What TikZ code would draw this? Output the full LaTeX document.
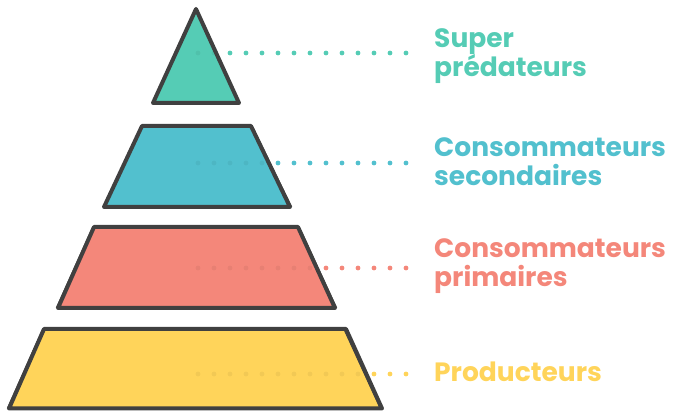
\documentclass[tikz,border=0pt]{standalone}
\usepackage{fontspec}
\newfontfamily\lab{Poppins}
\definecolor{cteal}{HTML}{55CCB5}
\definecolor{cblue}{HTML}{52C0CE}
\definecolor{csalmon}{HTML}{F4877A}
\definecolor{cyellow}{HTML}{FFD45A}
\definecolor{cline}{HTML}{404040}
\tikzset{
  tier/.style={draw=cline, line width=4pt, line join=round, line cap=round},
  sketch/.style={draw=cline, line width=0.9pt, line join=round},
  lbl/.style={anchor=base west, inner sep=0pt, font=\lab\bfseries\fontsize{26.5}{29.5}\selectfont, align=left},
}
\begin{document}
\begin{tikzpicture}[x=1pt,y=-1pt]
\useasboundingbox (0,0) rectangle (675,411);
% tier corners
\coordinate (a1) at (196,9);
\coordinate (a2) at (239,103);
\coordinate (a3) at (153,103);
\coordinate (b1) at (142,126);
\coordinate (b2) at (251,126);
\coordinate (b3) at (290,207);
\coordinate (b4) at (104,207);
\coordinate (c1) at (94,227);
\coordinate (c2) at (298,227);
\coordinate (c3) at (335,308);
\coordinate (c4) at (58,308);
\coordinate (d1) at (44,329);
\coordinate (d2) at (346,329);
\coordinate (d3) at (382,408.5);
\coordinate (d4) at (9,408.5);
% shapes
\fill[cteal] (a1) -- (a2) -- (a3) -- cycle;
\fill[cblue] (b1) -- (b2) -- (b3) -- (b4) -- cycle;
\fill[csalmon] (c1) -- (c2) -- (c3) -- (c4) -- cycle;
\fill[cyellow] (d1) -- (d2) -- (d3) -- (d4) -- cycle;
% faint inner dots
\foreach \x in {198,214} \fill[cteal!80!black, opacity=0.25] (\x,53) circle (2.4);
\foreach \x in {198,214,...,262} \fill[cblue!80!black, opacity=0.25] (\x,163) circle (2.4);
\foreach \x in {198,214,...,310} \fill[csalmon!80!black, opacity=0.25] (\x,268) circle (2.4);
\foreach \x in {198,214,...,358} \fill[cyellow!80!black, opacity=0.25] (\x,374) circle (2.4);
% outlines
\draw[tier] (a1) -- (a2) -- (a3) -- cycle;
\draw[tier] (b1) -- (b2) -- (b3) -- (b4) -- cycle;
\draw[tier] (c1) -- (c2) -- (c3) -- (c4) -- cycle;
\draw[tier] (d1) -- (d2) -- (d3) -- (d4) -- cycle;
\draw[sketch] ([shift={(1.8,1)}]b2) -- ([shift={(1.8,0)}]b3);
\draw[sketch] ([shift={(-1.8,1)}]c1) -- ([shift={(-1.8,0)}]c4);
\draw[sketch] ([shift={(1.8,1)}]c2) -- ([shift={(1.8,0)}]c3);
\draw[sketch] ([shift={(-1.8,1)}]d1) -- ([shift={(-1.8,0)}]d4);
\draw[sketch] ([shift={(-1.8,1)}]d2) -- ([shift={(-1.8,0)}]d3);
% outer dots
\foreach \x in {230,246,...,406} \fill[cteal] (\x,53) circle (2.4);
\foreach \x in {278,294,...,406} \fill[cblue] (\x,163) circle (2.4);
\foreach \x in {326,342,...,406} \fill[csalmon] (\x,268) circle (2.4);
\foreach \x in {374,390,406} \fill[cyellow] (\x,374) circle (2.4);
% labels (anchor = baseline of last line)
\node[lbl, text=cteal] (l1) at (434,77) {Super\\prédateurs};
\node[lbl, text=cblue] (l2) at (434,186) {Consommateurs\\secondaires};
\node[lbl, text=csalmon] (l3) at (434,287) {Consommateurs\\primaires};
\node[lbl, text=cyellow] (l4) at (434,382) {Producteurs};
\end{tikzpicture}
\end{document}
